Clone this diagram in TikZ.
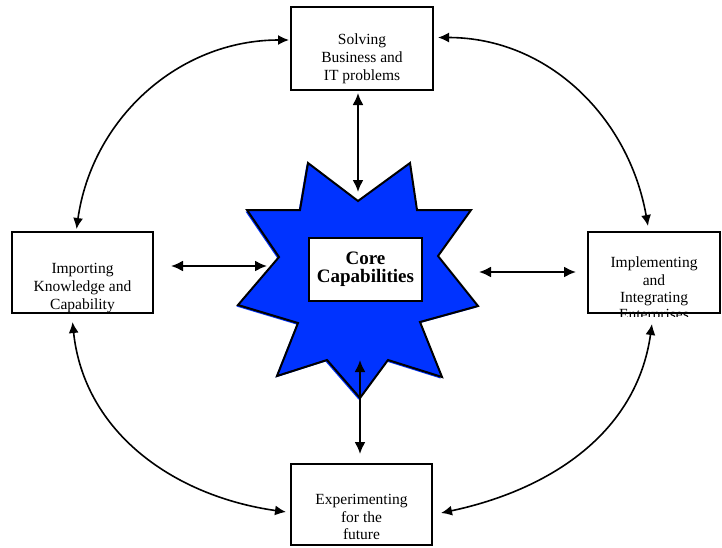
\documentclass[tikz,border=0pt]{standalone}
\usepackage{fontspec}
\setmainfont{Liberation Serif}
\usetikzlibrary{arrows.meta,calc}
\definecolor{starblue}{RGB}{0,51,255}
\newcommand{\corestar}{(308,-163) -- (358,-201) -- (410,-163) -- (417,-210) -- (471,-210) -- (438,-256) -- (478,-306) -- (420,-322) -- (442,-377) -- (388,-360) -- (360,-398) -- (327,-360) -- (277,-376) -- (298,-323) -- (238,-305) -- (279,-257) -- (247,-210) -- (300,-210) -- cycle}

\begin{document}
\begin{tikzpicture}[x=1pt,y=1pt]
	\tikzstyle{every node}+=[inner sep=0pt]
	\tikzstyle{box}=[draw,line width=2pt,minimum width=141pt,minimum height=81pt]
	\tikzstyle{txt}=[align=center,font=\fontsize{15.5}{17.8}\selectfont]
	\tikzstyle{link}=[line width=1.6pt,{Latex[length=11pt,width=10pt]}-{Latex[length=11pt,width=10pt]}]
	\tikzstyle{spoke}=[line width=2pt,{Latex[length=12pt,width=11pt]}-{Latex[length=12pt,width=11pt]}]
	\useasboundingbox (0,0) rectangle (722,-547);
	% the star
	\fill[starblue,shift={(-1.5,-1.5)}] \corestar;
	\draw[line width=2pt,fill=starblue] \corestar;
	\node[draw,line width=2pt,fill=white,minimum width=113pt,minimum height=63pt,align=center,font=\bfseries\fontsize{19}{18.3}\selectfont] (core) at (365.5,-269.5) {Core\\Capabilities};
	\coordinate (sttop) at (358,-192);
	\coordinate (stleft) at (267,-266);
	\coordinate (stright) at (479,-272);
	\coordinate (stbot) at (360,-360);
	% boxes
	\node[box,minimum width=142pt,minimum height=83pt] (solve) at (362,-48.5) {};
	\node[txt] (solvetxt) at (362,-59) {Solving\\Business and\\IT problems};
	\node[box] (import) at (82.5,-272.5) {};
	\node[txt] (importtxt) at (82.5,-288) {Importing\\Knowledge and\\Capability};
	\node[box,minimum width=132pt] (impl) at (654,-272.5) {};
	\begin{scope}
		\clip (580,-200) rectangle (722,-316);
		\node[txt,font=\fontsize{15.5}{17.3}\selectfont] (impltxt) at (654,-290) {Implementing\\and\\Integrating\\Enterprises};
	\end{scope}
	\node[box] (exp) at (361.5,-504.5) {};
	\node[txt] (exptxt) at (361.5,-517) {Experimenting\\for the\\future};
	% spokes
	\draw[spoke] ($(solve.south -| sttop)+(0,-2)$) -- (sttop);
	\draw[spoke] ($(import.east |- stleft)+(17,0)$) -- (stleft);
	\draw[spoke] (stright) -- ($(impl.west |- stright)+(-11,0)$);
	\draw[spoke] (stbot) -- ($(exp.north -| stbot)+(0,9)$);
	% ring
	\draw[link] ($(import.north)+(-6,2)$) to[out=82,in=180] ($(solve.west)+(-1,8.5)$);
	\draw[link] ($(solve.east)+(4,11)$) to[out=0,in=100] ($(impl.north)+(-6,5)$);
	\draw[link] ($(import.south)+(-10,-8)$) to[out=-84,in=172] ($(exp.west)+(-4,-7.5)$);
	\draw[link] ($(exp.east)+(8,-8.5)$) to[out=12,in=-98] ($(impl.south)+(-2,-10)$);
\end{tikzpicture}
\end{document}
